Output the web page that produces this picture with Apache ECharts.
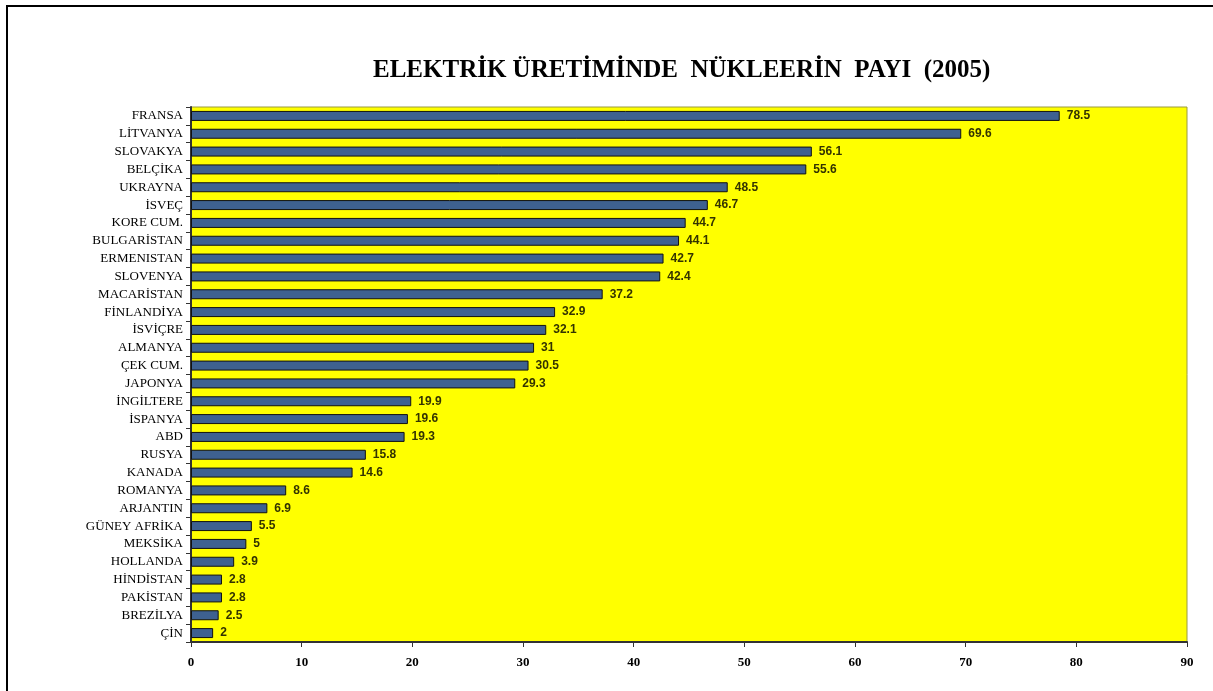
<!DOCTYPE html>
<html>
<head>
<meta charset="utf-8">
<title>Elektrik üretiminde nükleerin payı (2005)</title>
<script src="https://cdn.jsdelivr.net/npm/echarts@6/dist/echarts.min.js"></script>
<style>
    html, body { margin: 0; padding: 0; background: #fff; }
    #chart { width: 1213px; height: 691px; }
</style>
</head>
<body>
<div id="chart"></div>
<script>
// ülkeler, yukarıdan aşağıya
const countries = [
    'FRANSA', 'LİTVANYA', 'SLOVAKYA', 'BELÇİKA', 'UKRAYNA', 'İSVEÇ',
    'KORE CUM.', 'BULGARİSTAN', 'ERMENISTAN', 'SLOVENYA', 'MACARİSTAN',
    'FİNLANDİYA', 'İSVİÇRE', 'ALMANYA', 'ÇEK CUM.', 'JAPONYA', 'İNGİLTERE',
    'İSPANYA', 'ABD', 'RUSYA', 'KANADA', 'ROMANYA', 'ARJANTIN',
    'GÜNEY AFRİKA', 'MEKSİKA', 'HOLLANDA', 'HİNDİSTAN', 'PAKİSTAN',
    'BREZİLYA', 'ÇİN'
];
// nükleer payı (%)
const shares = [
    78.5, 69.6, 56.1, 55.6, 48.5, 46.7,
    44.7, 44.1, 42.7, 42.4, 37.2,
    32.9, 32.1, 31, 30.5, 29.3, 19.9,
    19.6, 19.3, 15.8, 14.6, 8.6, 6.9,
    5.5, 5, 3.9, 2.8, 2.8,
    2.5, 2
];
const xTicks = [0, 10, 20, 30, 40, 50, 60, 70, 80, 90];

const chart = echarts.init(document.getElementById('chart'));

const option = {
    backgroundColor: '#ffffff',
    animation: false,
    title: {
        text: 'ELEKTRİK ÜRETİMİNDE  NÜKLEERİN  PAYI  (2005)',
        left: 368,
        top: 53,
        textStyle: {
            fontFamily: 'Liberation Serif',
            fontWeight: 'bold',
            fontSize: 25,
            color: '#000'
        }
    },
    graphic: [
        {
            type: 'polyline',
            shape: { points: [[7, 691], [7, 6], [1213, 6]] },
            style: { stroke: '#000', lineWidth: 2, fill: null }
        }
    ],
    grid: {
        left: 191,
        right: 26,
        top: 107,
        bottom: 49,
        show: true,
        backgroundColor: '#ffff00',
        borderColor: '#9a9a40',
        borderWidth: 1
    },
    xAxis: {
        type: 'value',
        min: xTicks[0],
        max: xTicks[xTicks.length - 1],
        interval: 10,
        splitLine: { show: false },
        axisLine: { show: true, lineStyle: { color: '#333', width: 2 } },
        axisTick: { show: true, length: 5, lineStyle: { color: '#333' } },
        axisLabel: {
            margin: 14,
            fontFamily: 'Liberation Serif',
            fontWeight: 'bold',
            fontSize: 13,
            color: '#000'
        }
    },
    yAxis: {
        type: 'category',
        data: countries,
        inverse: true,
        axisLine: { show: true, lineStyle: { color: '#333', width: 2 } },
        axisTick: { show: true, length: 5, interval: 0, alignWithLabel: false, lineStyle: { color: '#333' } },
        axisLabel: {
            interval: 0,
            margin: 8,
            fontFamily: 'Liberation Serif',
            fontSize: 13,
            color: '#000'
        }
    },
    series: [
        {
            type: 'bar',
            data: shares,
            barWidth: '56%',
            itemStyle: {
                color: '#3e6190',
                borderColor: '#111',
                borderWidth: 1
            },
            label: {
                show: true,
                position: 'right',
                distance: 7,
                fontFamily: 'Liberation Sans',
                fontWeight: 'bold',
                fontSize: 12,
                color: '#333300'
            }
        }
    ]
};

chart.setOption(option);
</script>
</body>
</html>
